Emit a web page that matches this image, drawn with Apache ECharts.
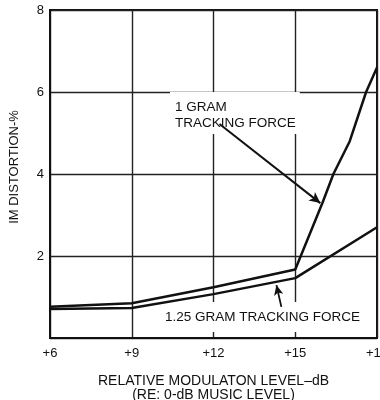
<!DOCTYPE html>
<html>
<head>
<meta charset="utf-8">
<script src="https://cdn.jsdelivr.net/npm/echarts@6/dist/echarts.min.js"></script>
<style>
  html, body { margin: 0; padding: 0; background: #fff; }
  #chart { width: 380px; height: 400px; }
</style>
</head>
<body>
<div id="chart"></div>
<script>
// Relative modulation level (dB) and IM distortion (%) for two tracking forces
const levels1g = [6, 9, 12, 15, 16, 16.4, 17, 17.6, 18];
const distortion1g = [0.76, 0.85, 1.24, 1.67, 3.3, 4.0, 4.8, 6.0, 6.6];

const levels125g = [6, 9, 12, 15, 18];
const distortion125g = [0.71, 0.73, 1.07, 1.46, 2.7];

// Tick values
const xTicks = [6, 9, 12, 15, 18];
const yTicks = [2, 4, 6, 8];

// Callout arrows (from text to curve), in data units
const arrow1gFrom = [12.22, 5.22];
const arrow1gTo = [15.92, 3.29];
const arrow125gFrom = [14.49, 0.76];
const arrow125gTo = [14.31, 1.29];

const FONT = '"Liberation Sans", Arial, Helvetica, sans-serif';
const INK = '#111';

const pairs = (xs, ys) => xs.map((x, i) => [x, ys[i]]);

const chart = echarts.init(document.getElementById('chart'), null, { renderer: 'canvas' });

chart.setOption({
  backgroundColor: '#fff',
  animation: false,
  grid: {
    left: 50, right: 3, top: 10, bottom: 62,
    outerBoundsMode: 'none',
    containLabel: false,
    show: true, borderColor: INK, borderWidth: 2, backgroundColor: 'transparent'
  },
  xAxis: {
    type: 'value',
    min: xTicks[0], max: xTicks[xTicks.length - 1], interval: 3,
    axisLine: { show: true, lineStyle: { color: INK, width: 2 } },
    axisTick: { show: false },
    axisLabel: {
      color: INK, fontFamily: FONT, fontSize: 13, margin: 9,
      hideOverlap: false, showMinLabel: true, showMaxLabel: true,
      formatter: v => '+' + v
    },
    splitLine: { show: true, lineStyle: { color: '#222', width: 1.4 } },
    name: 'RELATIVE MODULATON LEVEL\u2013dB\n(RE: 0-dB MUSIC LEVEL)',
    nameLocation: 'middle',
    nameGap: 36,
    nameTextStyle: { color: INK, fontFamily: FONT, fontSize: 14, lineHeight: 14, align: 'center' }
  },
  yAxis: {
    type: 'value',
    min: 0, max: yTicks[yTicks.length - 1], interval: 2,
    axisLine: { show: true, lineStyle: { color: INK, width: 2 } },
    axisTick: { show: false },
    axisLabel: {
      color: INK, fontFamily: FONT, fontSize: 13, margin: 6,
      showMaxLabel: true,
      formatter: v => (yTicks.includes(v) ? String(v) : '')
    },
    splitLine: { show: true, lineStyle: { color: '#222', width: 1.4 } }
  },
  graphic: [
    {
      type: 'text', z: 1, x: 14, y: 167, rotation: Math.PI / 2,
      style: {
        text: 'IM DISTORTION-%', font: '13px ' + FONT, fill: INK,
        align: 'center', verticalAlign: 'middle'
      }
    },
    {
      type: 'text', z: 1, x: 170, y: 92,
      style: {
        text: '1 GRAM\nTRACKING FORCE', font: '13.5px ' + FONT, fill: INK,
        lineHeight: 16, align: 'left', verticalAlign: 'top',
        backgroundColor: '#fff', padding: [7, 4, 3, 5]
      }
    },
    {
      type: 'text', z: 1, x: 160, y: 317,
      style: {
        text: '1.25 GRAM TRACKING FORCE', font: '13.5px ' + FONT, fill: INK,
        align: 'left', verticalAlign: 'middle',
        backgroundColor: '#fff', padding: [9, 6, 7, 5]
      }
    }
  ],
  series: [
    {
      name: '1 GRAM TRACKING FORCE',
      type: 'line',
      data: pairs(levels1g, distortion1g),
      showSymbol: false,
      lineStyle: { color: INK, width: 2.5 },
      z: 3,
      markLine: {
        silent: true,
        symbol: ['none', 'arrow'],
        symbolSize: [8, 11],
        label: { show: false },
        lineStyle: { color: INK, width: 2, type: 'solid' },
        data: [[{ coord: arrow1gFrom }, { coord: arrow1gTo }]]
      }
    },
    {
      name: '1.25 GRAM TRACKING FORCE',
      type: 'line',
      data: pairs(levels125g, distortion125g),
      showSymbol: false,
      lineStyle: { color: INK, width: 2.5 },
      z: 3,
      markLine: {
        silent: true,
        symbol: ['none', 'arrow'],
        symbolSize: [7, 10],
        label: { show: false },
        lineStyle: { color: INK, width: 1.8, type: 'solid' },
        data: [[{ coord: arrow125gFrom }, { coord: arrow125gTo }]]
      }
    }
  ]
});
</script>
</body>
</html>
